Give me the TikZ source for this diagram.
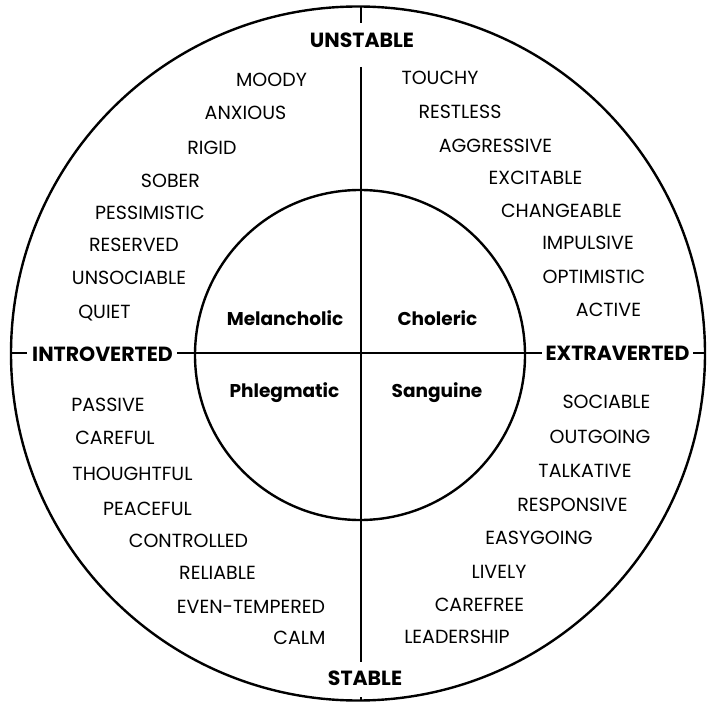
\documentclass[tikz,border=0pt]{standalone}
\usepackage{fontspec}
\setmainfont{Poppins}
\tikzset{
  word/.style={inner sep=0pt, text height=13.3pt, text depth=0pt, font=\fontsize{19}{19}\selectfont},
  head/.style={inner sep=0pt, text height=14.3pt, text depth=0pt, font=\fontsize{20.5}{20.5}\selectfont\bfseries},
  temper/.style={inner sep=0pt, text height=13pt, text depth=0pt, font=\fontsize{18.5}{18.5}\selectfont\bfseries},
  rim/.style={circle, draw, line width=2.4pt, inner sep=0pt},
  axis/.style={line width=2.4pt}
}
\begin{document}
\begin{tikzpicture}[x=1pt,y=-1pt]
\useasboundingbox (0,0) rectangle (707,703);
\fill[white] (0,0) rectangle (707,703);
% circles
\node[rim, minimum size=694pt] (outer) at (358,353.5) {};
\node[rim, minimum size=330pt] (inner) at (360,355) {};
% axis end points
\coordinate (vt0) at (361,6.5);
\coordinate (vt1) at (361,23);
\coordinate (vm0) at (361,67);
\coordinate (vm1) at (361,662);
\coordinate (vb0) at (361,697);
\coordinate (vb1) at (361,700.5);
\coordinate (hl0) at (11,353);
\coordinate (hl1) at (27,353);
\coordinate (hm0) at (177,353);
\coordinate (hm1) at (542,353);
\coordinate (hr0) at (693,353);
\coordinate (hr1) at (705,353);
\draw[axis] (vt0) -- (vt1);
\draw[axis] (vm0) -- (vm1);
\draw[axis] (vb0) -- (vb1);
\draw[axis] (hl0) -- (hl1);
\draw[axis] (hm0) -- (hm1);
\draw[axis] (hr0) -- (hr1);
% headings
\node[head] (uns) at (362,40) {UNSTABLE};
\node[head] (sta) at (365,678) {STABLE};
\node[head] (intro) at (102.5,354) {INTROVERTED};
\node[head] (extra) at (617.5,353) {EXTRAVERTED};
% temperaments
\node[temper] (mel) at (285,319) {Melancholic};
\node[temper] (cho) at (437.5,319) {Choleric};
\node[temper] (phl) at (284.5,391) {Phlegmatic};
\node[temper] (san) at (437,391) {Sanguine};
% upper left
\node[word] (w1) at (271.5,80) {MOODY};
\node[word] (w2) at (245.5,113) {ANXIOUS};
\node[word] (w3) at (212,148) {RIGID};
\node[word] (w4) at (170.5,181) {SOBER};
\node[word] (w5) at (150,213) {PESSIMISTIC};
\node[word] (w6) at (134,245) {RESERVED};
\node[word] (w7) at (129,278) {UNSOCIABLE};
\node[word] (w8) at (104.5,312) {QUIET};
% upper right
\node[word] (w9) at (440,78) {TOUCHY};
\node[word] (w10) at (460,112) {RESTLESS};
\node[word] (w11) at (495.5,146) {AGGRESSIVE};
\node[word] (w12) at (535.5,178) {EXCITABLE};
\node[word] (w13) at (561.5,211) {CHANGEABLE};
\node[word] (w14) at (588,243) {IMPULSIVE};
\node[word] (w15) at (594,277) {OPTIMISTIC};
\node[word] (w16) at (608.5,310) {ACTIVE};
% lower left
\node[word] (w17) at (108,405) {PASSIVE};
\node[word] (w18) at (115,438) {CAREFUL};
\node[word] (w19) at (132.5,474) {THOUGHTFUL};
\node[word] (w20) at (147.5,509) {PEACEFUL};
\node[word] (w21) at (188.5,541) {CONTROLLED};
\node[word] (w22) at (217.5,573) {RELIABLE};
\node[word] (w23) at (251,607) {EVEN-TEMPERED};
\node[word] (w24) at (299.5,638) {CALM};
% lower right
\node[word] (w25) at (606.5,402) {SOCIABLE};
\node[word] (w26) at (600,437) {OUTGOING};
\node[word] (w27) at (585,471) {TALKATIVE};
\node[word] (w28) at (572.5,505) {RESPONSIVE};
\node[word] (w29) at (539,538) {EASYGOING};
\node[word] (w30) at (499,572) {LIVELY};
\node[word] (w31) at (479.5,605) {CAREFREE};
\node[word] (w32) at (457,637) {LEADERSHIP};
\end{tikzpicture}
\end{document}
